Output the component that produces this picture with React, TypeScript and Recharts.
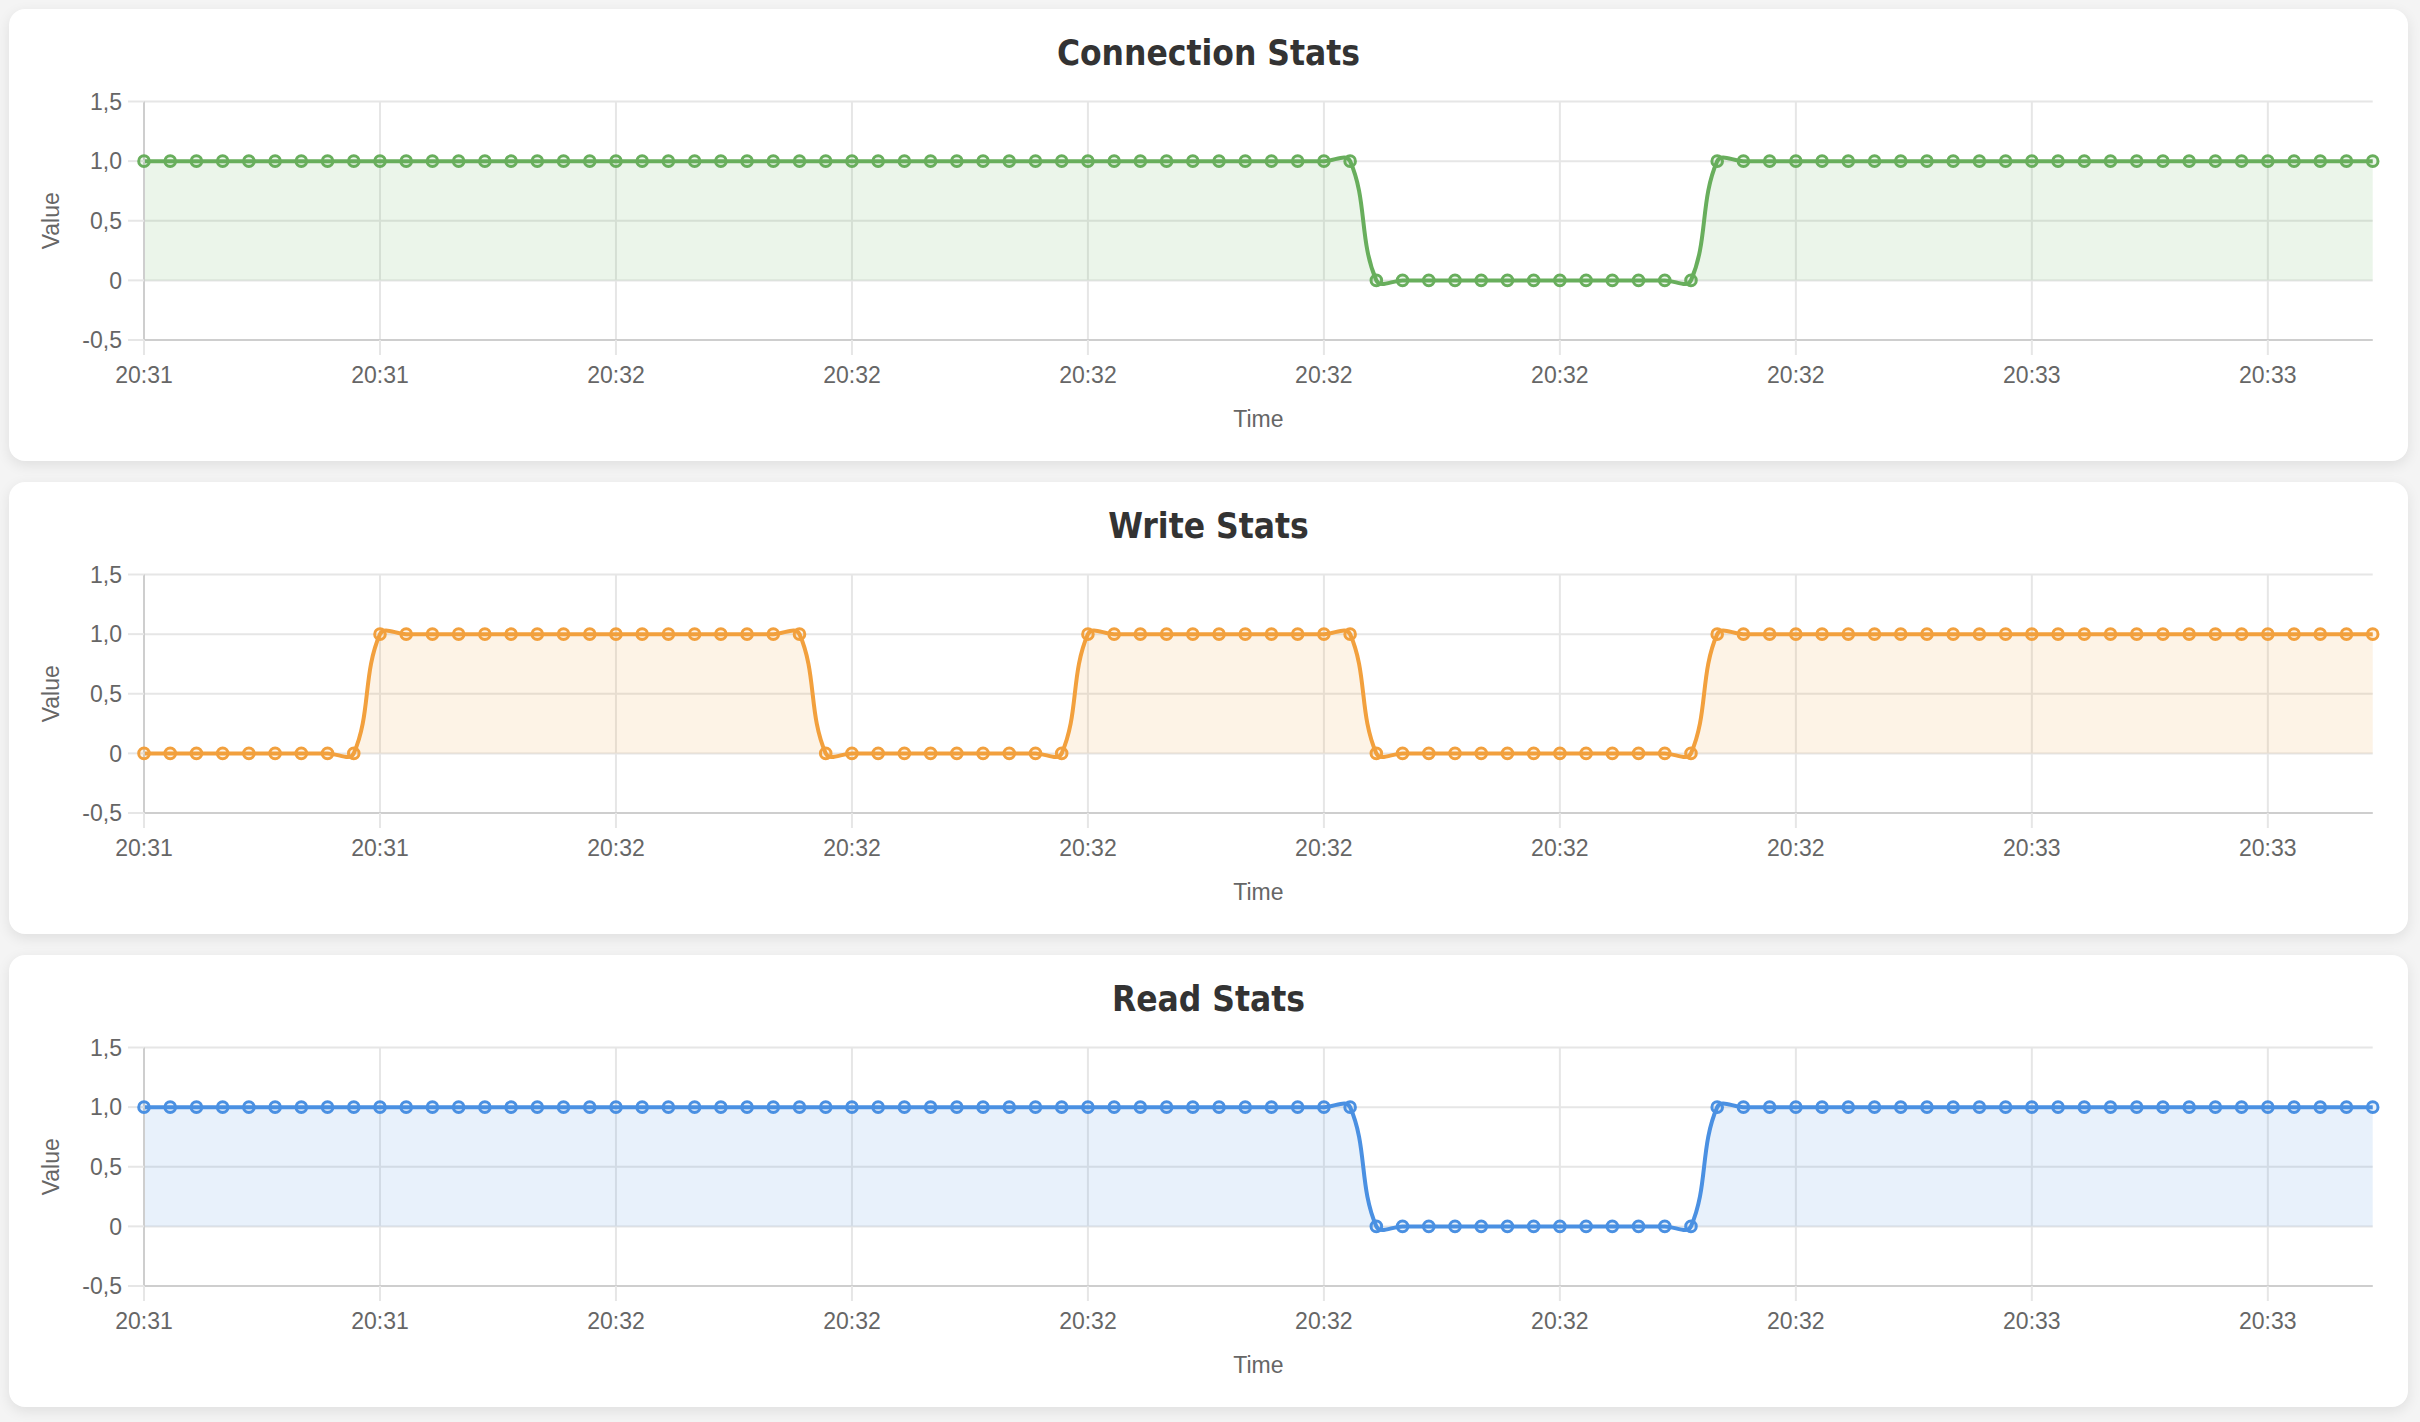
import React from "react";
import { AreaChart, Area, XAxis, YAxis, CartesianGrid } from "recharts";

// one sample per second
const times = [
  "20:31:48", "20:31:49", "20:31:50", "20:31:51", "20:31:52", "20:31:53", "20:31:54", "20:31:55", "20:31:56", "20:31:57",
  "20:31:58", "20:31:59", "20:32:00", "20:32:01", "20:32:02", "20:32:03", "20:32:04", "20:32:05", "20:32:06", "20:32:07",
  "20:32:08", "20:32:09", "20:32:10", "20:32:11", "20:32:12", "20:32:13", "20:32:14", "20:32:15", "20:32:16", "20:32:17",
  "20:32:18", "20:32:19", "20:32:20", "20:32:21", "20:32:22", "20:32:23", "20:32:24", "20:32:25", "20:32:26", "20:32:27",
  "20:32:28", "20:32:29", "20:32:30", "20:32:31", "20:32:32", "20:32:33", "20:32:34", "20:32:35", "20:32:36", "20:32:37",
  "20:32:38", "20:32:39", "20:32:40", "20:32:41", "20:32:42", "20:32:43", "20:32:44", "20:32:45", "20:32:46", "20:32:47",
  "20:32:48", "20:32:49", "20:32:50", "20:32:51", "20:32:52", "20:32:53", "20:32:54", "20:32:55", "20:32:56", "20:32:57",
  "20:32:58", "20:32:59", "20:33:00", "20:33:01", "20:33:02", "20:33:03", "20:33:04", "20:33:05", "20:33:06", "20:33:07",
  "20:33:08", "20:33:09", "20:33:10", "20:33:11", "20:33:12", "20:33:13",
];

const connectionValues = [
  1, 1, 1, 1, 1, 1, 1, 1, 1, 1,
  1, 1, 1, 1, 1, 1, 1, 1, 1, 1,
  1, 1, 1, 1, 1, 1, 1, 1, 1, 1,
  1, 1, 1, 1, 1, 1, 1, 1, 1, 1,
  1, 1, 1, 1, 1, 1, 1, 0, 0, 0,
  0, 0, 0, 0, 0, 0, 0, 0, 0, 0,
  1, 1, 1, 1, 1, 1, 1, 1, 1, 1,
  1, 1, 1, 1, 1, 1, 1, 1, 1, 1,
  1, 1, 1, 1, 1, 1,
];

const writeValues = [
  0, 0, 0, 0, 0, 0, 0, 0, 0, 1,
  1, 1, 1, 1, 1, 1, 1, 1, 1, 1,
  1, 1, 1, 1, 1, 1, 0, 0, 0, 0,
  0, 0, 0, 0, 0, 0, 1, 1, 1, 1,
  1, 1, 1, 1, 1, 1, 1, 0, 0, 0,
  0, 0, 0, 0, 0, 0, 0, 0, 0, 0,
  1, 1, 1, 1, 1, 1, 1, 1, 1, 1,
  1, 1, 1, 1, 1, 1, 1, 1, 1, 1,
  1, 1, 1, 1, 1, 1,
];

const readValues = [
  1, 1, 1, 1, 1, 1, 1, 1, 1, 1,
  1, 1, 1, 1, 1, 1, 1, 1, 1, 1,
  1, 1, 1, 1, 1, 1, 1, 1, 1, 1,
  1, 1, 1, 1, 1, 1, 1, 1, 1, 1,
  1, 1, 1, 1, 1, 1, 1, 0, 0, 0,
  0, 0, 0, 0, 0, 0, 0, 0, 0, 0,
  1, 1, 1, 1, 1, 1, 1, 1, 1, 1,
  1, 1, 1, 1, 1, 1, 1, 1, 1, 1,
  1, 1, 1, 1, 1, 1,
];

const yTicks = [-0.5, 0, 0.5, 1, 1.5];

const panels = [
  { title: "Connection Stats", values: connectionValues, color: "#68ae5c" },
  { title: "Write Stats", values: writeValues, color: "#f2a03d" },
  { title: "Read Stats", values: readValues, color: "#4a90e2" },
];

const axisFont = "'Liberation Sans', Arial, Helvetica, sans-serif";
const gridColor = "#e6e6e6";
const borderColor = "#cecece";

// bezier spline like chart.js (tension 0.4)
function splineCurve(tension: number) {
  return (ctx: any) => {
    let pts: number[][] = [];
    let line = NaN;
    return {
      areaStart() { line = 0; },
      areaEnd() { line = NaN; },
      lineStart() { pts = []; },
      point(x: number, y: number) { pts.push([+x, +y]); },
      lineEnd() {
        const n = pts.length;
        if (n) {
          if (line) ctx.lineTo(pts[0][0], pts[0][1]);
          else ctx.moveTo(pts[0][0], pts[0][1]);
          const before: number[][] = [];
          const after: number[][] = [];
          for (let i = 0; i < n; i++) {
            const p = pts[Math.max(i - 1, 0)];
            const c = pts[i];
            const nx = pts[Math.min(i + 1, n - 1)];
            const d01 = Math.hypot(c[0] - p[0], c[1] - p[1]);
            const d12 = Math.hypot(nx[0] - c[0], nx[1] - c[1]);
            let s01 = d01 / (d01 + d12);
            let s12 = d12 / (d01 + d12);
            if (isNaN(s01)) s01 = 0;
            if (isNaN(s12)) s12 = 0;
            const fa = tension * s01;
            const fb = tension * s12;
            before.push([c[0] - fa * (nx[0] - p[0]), c[1] - fa * (nx[1] - p[1])]);
            after.push([c[0] + fb * (nx[0] - p[0]), c[1] + fb * (nx[1] - p[1])]);
          }
          for (let i = 0; i < n - 1; i++) {
            ctx.bezierCurveTo(after[i][0], after[i][1], before[i + 1][0], before[i + 1][1], pts[i + 1][0], pts[i + 1][1]);
          }
        }
        if (line || (line !== 0 && n === 1)) ctx.closePath();
        line = 1 - line;
      },
    };
  };
}

const curve = splineCurve(0.4);

const fmtValue = (v: number) => (v === 0 ? "0" : v.toFixed(1).replace(".", ","));

const timeLabel = (props: any) => {
  const { x, y, width } = props.viewBox;
  return (
    <text x={x + width / 2} y={y + 86.7} textAnchor="middle" fill="#666" fontSize={23} fontFamily={axisFont}>
      Time
    </text>
  );
};

const valueLabel = (props: any) => {
  const { x, y, height } = props.viewBox;
  const cx = x + 50;
  const cy = y + height / 2;
  return (
    <text x={cx} y={cy} transform={`rotate(-90 ${cx} ${cy})`} textAnchor="middle" fill="#666" fontSize={23} fontFamily={axisFont}>
      Value
    </text>
  );
};

function Panel(props: { title: string; values: number[]; color: string; top: number }) {
  const { title, values, color, top } = props;
  const data = times.map((t, i) => ({ time: t, value: values[i] }));
  return (
    <div
      style={{
        position: "absolute",
        left: 9,
        top,
        width: 2399,
        height: 452,
        background: "#fff",
        borderRadius: 16,
        boxShadow: "0 4px 14px rgba(0,0,0,0.09)",
      }}
    >
      <div
        style={{
          position: "absolute",
          left: 0,
          top: 0,
          width: "100%",
          height: 88,
          lineHeight: "88px",
          textAlign: "center",
          fontFamily: "'DejaVu Sans Condensed', 'DejaVu Sans', sans-serif",
          fontStretch: "condensed",
          fontWeight: "bold",
          fontSize: 35,
          color: "#333",
        }}
      >
        {title}
      </div>
      <AreaChart width={2399} height={452} data={data} margin={{ top: 92.5, right: 35.3, bottom: 43, left: 0 }}>
        <CartesianGrid stroke={gridColor} strokeWidth={2} syncWithTicks />
        <XAxis
          dataKey="time"
          interval={8}
          tickFormatter={(t: string) => t.slice(0, 5)}
          height={78}
          tickSize={15}
          tickMargin={12}
          tick={{ fill: "#666", fontSize: 23, fontFamily: axisFont }}
          tickLine={{ stroke: gridColor, strokeWidth: 2 }}
          axisLine={{ stroke: borderColor, strokeWidth: 2 }}
          label={timeLabel}
        />
        <YAxis
          type="number"
          domain={[-0.5, 1.5]}
          ticks={yTicks}
          tickFormatter={fmtValue}
          width={135}
          tickSize={16}
          tickMargin={6}
          tick={{ fill: "#666", fontSize: 23, fontFamily: axisFont }}
          tickLine={{ stroke: gridColor, strokeWidth: 2 }}
          axisLine={{ stroke: borderColor, strokeWidth: 2 }}
          label={valueLabel}
        />
        <Area
          type={curve as any}
          dataKey="value"
          stroke={color}
          strokeWidth={4}
          fill={color}
          fillOpacity={0.13}
          dot={{ r: 5.3, stroke: color, strokeWidth: 3, fill: color, fillOpacity: 0.13 }}
          activeDot={false}
          isAnimationActive={false}
        />
      </AreaChart>
    </div>
  );
}

export default function App() {
  return (
    <div
      style={{
        position: "absolute",
        left: 0,
        top: 0,
        width: 2420,
        height: 1422,
        background: "#f4f4f4",
        overflow: "hidden",
      }}
    >
      {panels.map((p, i) => (
        <Panel key={p.title} title={p.title} values={p.values} color={p.color} top={9 + i * 473} />
      ))}
    </div>
  );
}
